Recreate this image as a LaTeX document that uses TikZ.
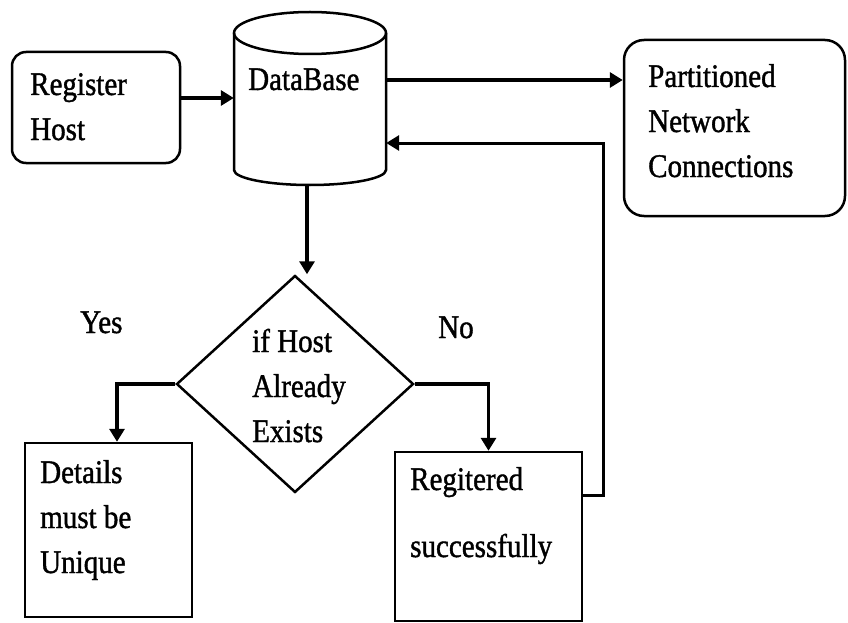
\documentclass[tikz,border=0pt]{standalone}
\usepackage{fontspec}
\setmainfont{Liberation Serif}[FakeStretch=0.88,FakeBold=1.2]
\usetikzlibrary{shapes.geometric,arrows.meta,calc}
\begin{document}
\begin{tikzpicture}[x=1pt,y=1pt,
  box/.style={draw, line width=2.5pt, inner sep=0pt},
  roundbox/.style={box, rounded corners=14pt},
  flow/.style={line width=3.5pt, -{Triangle[length=13pt,width=15pt]}},
  backflow/.style={line width=3pt, -{Triangle[length=13pt,width=15pt]}},
  txt/.style={inner sep=0pt, anchor=base west, font=\fontsize{33}{40}\selectfont}]
\useasboundingbox (0,0) rectangle (848,-623);

% shapes
\node[roundbox, minimum width=168pt, minimum height=111pt] (reg) at (96,-107.5) {};
\node[minimum width=152pt, minimum height=173pt, inner sep=0pt] (db) at (310,-98.5) {};
\draw[line width=2.5pt] (310,-33) ellipse [x radius=76, y radius=21];
\draw[line width=2.5pt] (234,-33) -- (234,-170)
  arc[start angle=180, end angle=360, x radius=76, y radius=15] -- (386,-33);
\node[roundbox, rounded corners=20pt, minimum width=221pt, minimum height=176pt] (part) at (734.5,-128) {};
\node[box, diamond, minimum width=237pt, minimum height=217pt] (dec) at (295,-384) {};
\node[box, minimum width=167pt, minimum height=174pt] (det) at (108.5,-530) {};
\node[box, minimum width=187pt, minimum height=169pt] (regd) at (488.5,-536.5) {};

% texts
\node[txt] (t1) at (30,-95) {Register};
\node[txt] (t2) at (30,-140) {Host};
\node[txt] (t3) at (248,-90) {DataBase};
\node[txt] (t4) at (648,-87) {Partitioned};
\node[txt] (t5) at (648,-132) {Network};
\node[txt] (t6) at (648,-177) {Connections};
\node[txt] (t7) at (80,-333) {Yes};
\node[txt] (t8) at (438,-338) {No};
\node[txt] (t9) at (252,-352) {if Host};
\node[txt] (t10) at (252,-397) {Already};
\node[txt] (t11) at (252,-442) {Exists};
\node[txt] (t12) at (40,-483) {Details};
\node[txt] (t13) at (40,-528) {must be};
\node[txt] (t14) at (40,-573) {Unique};
\node[txt] (t15) at (410,-490) {Regitered};
\node[txt] (t16) at (410,-557) {successfully};

% connectors
\coordinate (r1) at ($(reg.east)+(0,9.5)$);
\draw[flow] (r1) -- (r1 -| db.west);
\coordinate (d1) at ($(db.east)+(0,18.5)$);
\draw[flow] (d1) -- (d1 -| part.west);
\coordinate (d2) at ($(db.south)+(-3,0)$);
\draw[flow] (d2) -- (d2 |- dec.north);
\coordinate (d3) at ($(det.north)+(8.5,0)$);
\draw[flow] (dec.west) -| (d3);
\draw[flow] (dec.east) -| (regd.north);
\coordinate (r5) at ($(regd.east)+(0,41.5)$);
\coordinate (r7) at ($(db.east)+(0,-44.5)$);
\draw[backflow] (r5) -- ++(20,0) |- (r7);
\end{tikzpicture}
\end{document}
